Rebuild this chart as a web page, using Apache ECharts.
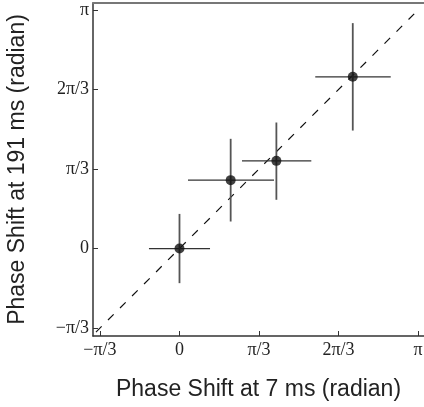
<!DOCTYPE html>
<html><head><meta charset="utf-8">
<script src="https://cdn.jsdelivr.net/npm/echarts@6/dist/echarts.min.js"></script>
<style>html,body{margin:0;padding:0;background:#fff}#c{width:424px;height:407px}</style>
</head><body><div id="c"></div>
<script>
const PI = Math.PI;
const tickValues = [-PI/3, 0, PI/3, 2*PI/3, PI];
const tickLabels = ['\u2212\u03c0/3', '0', '\u03c0/3', '2\u03c0/3', '\u03c0'];
// data in radians
const xVals = [0, 0.674, 1.276, 2.282];
const yVals = [0, 0.901, 1.155, 2.262];
const xLow  = [-0.402, 0.112, 0.823, 1.788];
const xHigh = [0.402, 1.245, 1.736, 2.782];
const yLow  = [-0.456, 0.356, 0.642, 1.554];
const yHigh = [0.456, 1.445, 1.660, 2.969];
const diagLine = [[-1.1, -1.1], [PI, PI]];
const xTitle = 'Phase Shift at 7 ms (radian)';
const yTitle = 'Phase Shift at 191 ms (radian)';

function fmt(v) {
  let best = 0, bd = Infinity;
  tickValues.forEach((t, i) => { const d = Math.abs(t - v); if (d < bd) { bd = d; best = i; } });
  return tickLabels[best];
}
const points = xVals.map((x, i) => [x, yVals[i]]);
const errData = xVals.map((x, i) => [x, yVals[i], xLow[i], xHigh[i], yLow[i], yHigh[i]]);

const labelStyle = { fontFamily: 'Liberation Serif', fontSize: 18, color: '#222' };
const chart = echarts.init(document.getElementById('c'), null, { renderer: 'canvas' });
chart.setOption({
  animation: false,
  grid: { left: 93, top: 3, right: 0, bottom: 71, containLabel: false, outerBoundsMode: 'none' },
  xAxis: [{
    type: 'value', min: -1.139, max: 3.22, position: 'bottom',
    splitLine: { show: false },
    axisLine: { onZero: false, lineStyle: { color: '#333', width: 1.5 } },
    axisTick: { inside: true, length: 5, customValues: tickValues, lineStyle: { color: '#333' } },
    axisLabel: Object.assign({ customValues: tickValues, formatter: fmt, margin: 5 }, labelStyle),
    name: xTitle, nameLocation: 'middle', nameGap: 42,
    nameTextStyle: { fontFamily: 'Liberation Sans', fontSize: 23, color: '#222' }
  }, {
    type: 'value', min: -1.139, max: 3.22, position: 'top',
    splitLine: { show: false },
    axisLine: { show: true, onZero: false, lineStyle: { color: '#777', width: 2 } },
    axisTick: { show: false }, axisLabel: { show: false }
  }],
  yAxis: {
    type: 'value', min: -1.152, max: 3.234,
    splitLine: { show: false },
    axisLine: { onZero: false, lineStyle: { color: '#333', width: 1.5 } },
    axisTick: { inside: true, length: 5, customValues: tickValues, lineStyle: { color: '#333' } },
    axisLabel: Object.assign({ customValues: tickValues, formatter: fmt, margin: 4 }, labelStyle),
    name: yTitle, nameLocation: 'middle', nameGap: 64,
    nameTextStyle: { fontFamily: 'Liberation Sans', fontSize: 23, color: '#222' }
  },
  series: [{
    type: 'line', data: diagLine, showSymbol: false, symbol: 'none',
    lineStyle: { color: '#111', width: 1.2, type: [8, 9] }, z: 1, silent: true
  }, {
    type: 'custom', data: errData, encode: { x: 0, y: 1 }, z: 2,
    renderItem: function (params, api) {
      const l = api.coord([api.value(2), api.value(1)]);
      const r = api.coord([api.value(3), api.value(1)]);
      const b = api.coord([api.value(0), api.value(4)]);
      const t = api.coord([api.value(0), api.value(5)]);
      return { type: 'group', children: [
        { type: 'line', shape: { x1: l[0], y1: l[1], x2: r[0], y2: r[1] }, style: { stroke: '#333', lineWidth: 1.3 } },
        { type: 'line', shape: { x1: b[0], y1: b[1], x2: t[0], y2: t[1] }, style: { stroke: '#555', lineWidth: 1.8 } }
      ]};
    }
  }, {
    type: 'scatter', data: points, symbol: 'circle', symbolSize: 10,
    itemStyle: { color: '#111' }, z: 3
  }]
});
</script></body></html>
